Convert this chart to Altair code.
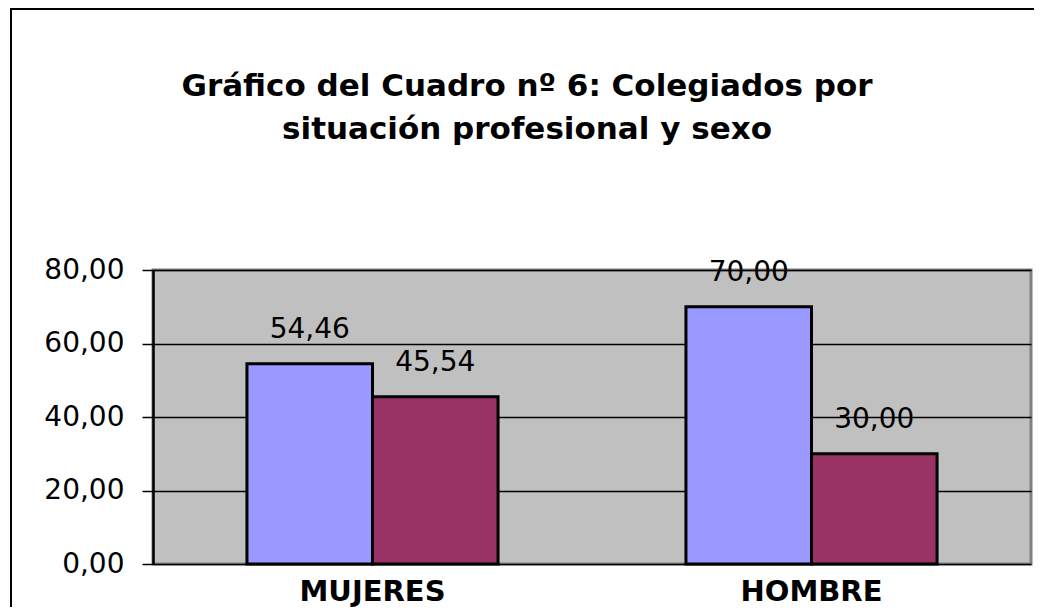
import altair as alt
import pandas as pd

categories = ["MUJERES", "MUJERES", "HOMBRE", "HOMBRE"]
series = ["Serie1", "Serie2", "Serie1", "Serie2"]
values = [54.46, 45.54, 70.00, 30.00]
y_ticks = [0, 20, 40, 60, 80]
cat_order = ["MUJERES", "HOMBRE"]
series_order = ["Serie1", "Serie2"]
colors = ["#9999FF", "#993366"]

df = pd.DataFrame({"cat": categories, "serie": series, "valor": values})

FONT = "DejaVu Sans"

base = alt.Chart(df).encode(
    x=alt.X("cat:N", sort=cat_order, title=None,
            scale=alt.Scale(paddingInner=0.428, paddingOuter=0.214),
            axis=alt.Axis(labelAngle=0, domain=False, ticks=False, grid=False,
                          labelFont=FONT, labelFontSize=29, labelFontWeight="bold",
                          labelColor="black", labelPadding=13)),
    xOffset=alt.XOffset("serie:N", sort=series_order),
    y=alt.Y("valor:Q", title=None,
            scale=alt.Scale(domain=[0, 80], nice=False),
            axis=alt.Axis(values=y_ticks, grid=True, gridColor="black", gridWidth=1.5,
                          domain=True, domainColor="black", domainWidth=2.5,
                          ticks=True, tickColor="black", tickWidth=1.5, tickSize=11,
                          labelFont=FONT, labelFontSize=28, labelColor="black",
                          labelPadding=18,
                          labelExpr="replace(format(datum.value, '.2f'), '.', ',')")),
)

bars = base.mark_bar(stroke="black", strokeWidth=3).encode(
    color=alt.Color("serie:N", sort=series_order,
                    scale=alt.Scale(domain=series_order, range=colors), legend=None)
)

labels = base.transform_calculate(
    etiqueta="replace(format(datum.valor, '.2f'), '.', ',')"
).mark_text(font=FONT, fontSize=28, color="black", baseline="alphabetic", dy=-26).encode(
    text="etiqueta:N"
)

frame = alt.Chart(pd.DataFrame({"k": [0]})).mark_rect(
    fill="transparent", stroke="black", strokeWidth=2
).encode(
    x=alt.value(-142), x2=alt.value(890), y=alt.value(-261), y2=alt.value(360)
)

chart = alt.layer(frame, bars, labels).properties(
    width=878,
    height=294,
    autosize=alt.AutoSizeParams(type="none"),
    padding={"left": 145, "top": 262, "right": 3, "bottom": 43},
    background="white",
    title=alt.Title(
        ["Gráfico del Cuadro nº 6: Colegiados por", "situación profesional y sexo"],
        font=FONT, fontSize=31, fontWeight="bold", color="black",
        anchor="middle", dx=-65, offset=-138, lineHeight=43, baseline="top",
    ),
).configure_view(
    fill="#C0C0C0", stroke="#808080", strokeWidth=3
)

chart.save("out.html", embed_options={"renderer": "svg", "actions": False})
